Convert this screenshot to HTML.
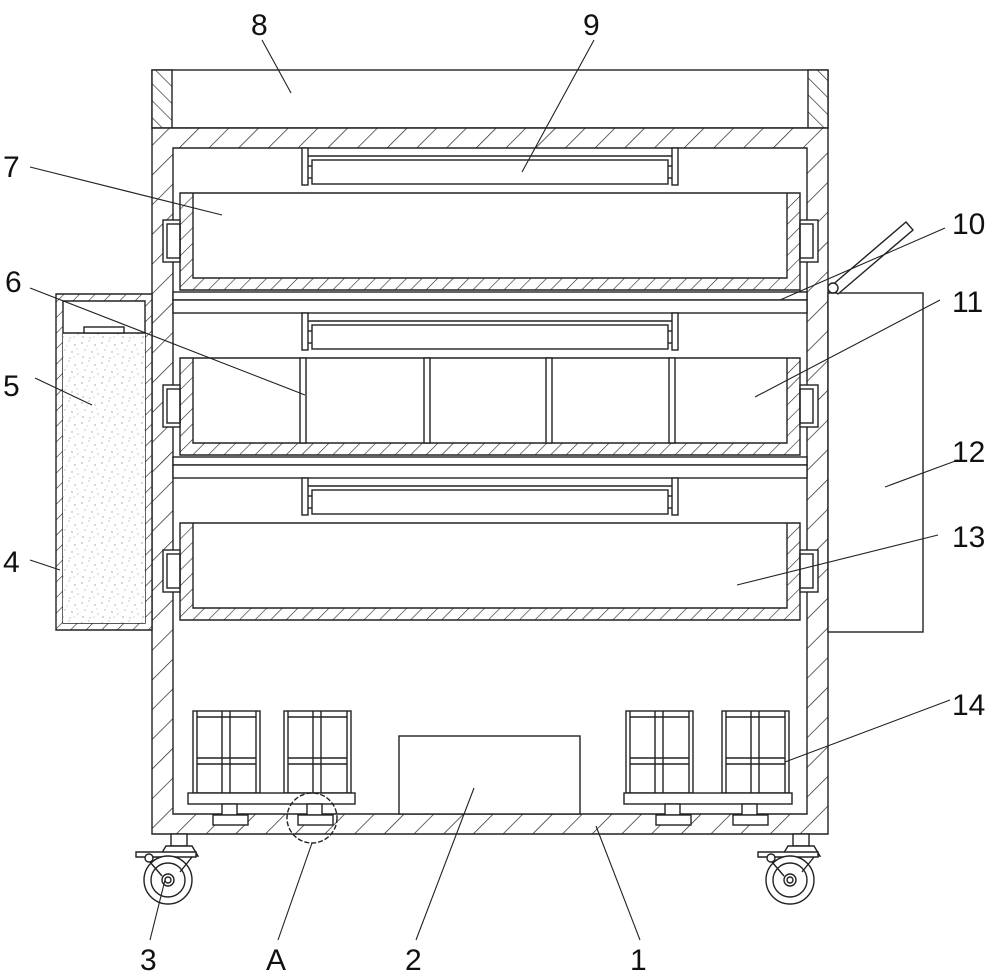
<!DOCTYPE html>
<html><head><meta charset="utf-8"><style>
html,body{margin:0;padding:0;background:#fff;}
svg{display:block;}
text{font-family:"Liberation Sans",sans-serif;font-size:30px;fill:#111;}
</style></head><body>
<svg width="1000" height="978" viewBox="0 0 1000 978" xmlns="http://www.w3.org/2000/svg">
<defs>
<pattern id="h" patternUnits="userSpaceOnUse" width="21" height="21" patternTransform="rotate(45)">
<rect width="21" height="21" fill="#fff"/><line x1="0" y1="0" x2="0" y2="21" stroke="#222" stroke-width="1.4"/>
</pattern>
<pattern id="h2" patternUnits="userSpaceOnUse" width="11" height="11" patternTransform="rotate(45)">
<rect width="11" height="11" fill="#fff"/><line x1="0" y1="0" x2="0" y2="11" stroke="#222" stroke-width="1.2"/>
</pattern>
<pattern id="hb" patternUnits="userSpaceOnUse" width="12" height="12" patternTransform="rotate(-45)">
<rect width="12" height="12" fill="#fff"/><line x1="0" y1="0" x2="0" y2="12" stroke="#222" stroke-width="1.3"/>
</pattern>
<pattern id="sp" patternUnits="userSpaceOnUse" width="20" height="20">
<rect width="20" height="20" fill="#fff"/>
<g fill="#999"><circle cx="2" cy="3" r="0.7"/><circle cx="9" cy="1" r="0.6"/><circle cx="15" cy="5" r="0.7"/><circle cx="5" cy="10" r="0.6"/><circle cx="12" cy="12" r="0.7"/><circle cx="18" cy="14" r="0.6"/><circle cx="3" cy="17" r="0.7"/><circle cx="10" cy="18" r="0.6"/><circle cx="17" cy="9" r="0.5"/><circle cx="7" cy="6" r="0.5"/><circle cx="14" cy="17" r="0.5"/></g>
</pattern>
</defs>
<g stroke="#222" stroke-width="1.4" fill="none">
<rect x="152" y="70" width="676" height="58" fill="#fff"/>
<rect x="152" y="70" width="20" height="58" fill="url(#hb)"/>
<rect x="808" y="70" width="20" height="58" fill="url(#hb)"/>
<path d="M152 128 H828 V834 H152 Z M173 148 V814 H807 V148 Z" fill="url(#h)" fill-rule="evenodd"/>
<rect x="173" y="292" width="634" height="8" fill="#fff"/>
<rect x="173" y="300" width="634" height="13" fill="#fff"/>
<rect x="173" y="457" width="634" height="8" fill="#fff"/>
<rect x="173" y="465" width="634" height="13" fill="#fff"/>
<g id="rail">
<rect x="302" y="148" width="6" height="37" fill="#fff"/>
<rect x="672" y="148" width="6" height="37" fill="#fff"/>
<line x1="308" y1="156" x2="672" y2="156"/>
<rect x="312" y="160" width="356" height="24" fill="#fff"/>
<line x1="308" y1="166" x2="312" y2="166"/><line x1="308" y1="178" x2="312" y2="178"/>
<line x1="668" y1="166" x2="672" y2="166"/><line x1="668" y1="178" x2="672" y2="178"/>
</g>
<use href="#rail" y="165"/>
<use href="#rail" y="330"/>
<g id="dr">
<path d="M180 193 H800 V290 H180 Z M193 193 V278 H787 V193 Z" fill="url(#h2)" fill-rule="evenodd"/>
<rect x="163" y="220" width="17" height="42" fill="#fff"/>
<rect x="167" y="224" width="13" height="34"/>
<rect x="800" y="220" width="18" height="42" fill="#fff"/>
<rect x="800" y="224" width="13" height="34"/>
</g>
<use href="#dr" y="165"/>
<use href="#dr" y="330"/>
<rect x="300" y="358" width="6" height="85" fill="#fff"/>
<rect x="424" y="358" width="6" height="85" fill="#fff"/>
<rect x="546" y="358" width="6" height="85" fill="#fff"/>
<rect x="669" y="358" width="6" height="85" fill="#fff"/>
<path d="M56 294 H152 V630 H56 Z M63 301 V623 H145 V301 Z" fill="url(#h2)" fill-rule="evenodd"/>
<rect x="63" y="333" width="82" height="290" fill="url(#sp)" stroke="none"/>
<line x1="63" y1="333" x2="145" y2="333"/>
<rect x="84" y="327" width="40" height="6" fill="#fff"/>
<rect x="828" y="293" width="95" height="339" fill="#fff"/>
<path d="M830 287 L906 222 L913 230 L838 294 Z" fill="#fff"/>
<circle cx="833" cy="288" r="5" fill="#fff"/>
<rect x="399" y="736" width="181" height="78" fill="#fff"/>
<g id="wf">
<rect x="193" y="711" width="67" height="82" fill="#fff"/>
<line x1="197" y1="711" x2="197" y2="793"/><line x1="256" y1="711" x2="256" y2="793"/>
<line x1="222" y1="711" x2="222" y2="793"/><line x1="230" y1="711" x2="230" y2="793"/>
<line x1="197" y1="717" x2="256" y2="717"/>
<line x1="197" y1="758" x2="256" y2="758"/><line x1="197" y1="764" x2="256" y2="764"/>
</g>
<use href="#wf" x="91"/>
<use href="#wf" x="433"/>
<use href="#wf" x="529"/>
<rect x="188" y="793" width="167" height="11" fill="#fff"/>
<rect x="624" y="793" width="168" height="11" fill="#fff"/>
<g id="ft"><rect x="222" y="804" width="15" height="11" fill="#fff"/><rect x="213" y="815" width="35" height="10" fill="#fff"/></g>
<use href="#ft" x="85"/>
<use href="#ft" x="443"/>
<use href="#ft" x="520"/>
<circle cx="312" cy="818" r="25" stroke-dasharray="5 2" fill="none"/>
<g id="cs">
<rect x="171" y="834" width="16" height="12" fill="#fff"/>
<path d="M166 846 H192 L198 856 H160 Z" fill="#fff"/>
<path d="M136 852 H196 V857 H136 Z" fill="#fff"/>
<circle cx="149" cy="858" r="4" fill="#fff"/>
<circle cx="168" cy="880" r="24" fill="#fff"/>
<circle cx="168" cy="880" r="17"/>
<circle cx="168" cy="880" r="6"/>
<circle cx="168" cy="880" r="3"/>
<line x1="150" y1="862" x2="162" y2="876"/>
<line x1="192" y1="857" x2="180" y2="872"/>
</g>
<use href="#cs" x="622"/>
<g stroke-width="1.1">
<line x1="262" y1="40" x2="291" y2="93"/>
<line x1="594" y1="40" x2="522" y2="172"/>
<line x1="30" y1="167" x2="222" y2="215"/>
<line x1="945" y1="228" x2="780" y2="300"/>
<line x1="30" y1="288" x2="305" y2="395"/>
<line x1="940" y1="300" x2="755" y2="397"/>
<line x1="35" y1="378" x2="92" y2="405"/>
<line x1="958" y1="460" x2="885" y2="487"/>
<line x1="938" y1="535" x2="737" y2="585"/>
<line x1="30" y1="560" x2="60" y2="570"/>
<line x1="950" y1="700" x2="785" y2="762"/>
<line x1="150" y1="940" x2="165" y2="880"/>
<line x1="278" y1="940" x2="312" y2="843"/>
<line x1="416" y1="940" x2="474" y2="788"/>
<line x1="640" y1="940" x2="596" y2="826"/>
</g>
</g>
<g>
<text x="251" y="35">8</text>
<text x="583" y="35">9</text>
<text x="3" y="177">7</text>
<text x="952" y="234">10</text>
<text x="5" y="292">6</text>
<text x="952" y="312">11</text>
<text x="3" y="396">5</text>
<text x="952" y="462">12</text>
<text x="952" y="547">13</text>
<text x="3" y="572">4</text>
<text x="952" y="715">14</text>
<text x="140" y="970">3</text>
<text x="266" y="970">A</text>
<text x="405" y="970">2</text>
<text x="630" y="970">1</text>
</g>
</svg>
</body></html>
